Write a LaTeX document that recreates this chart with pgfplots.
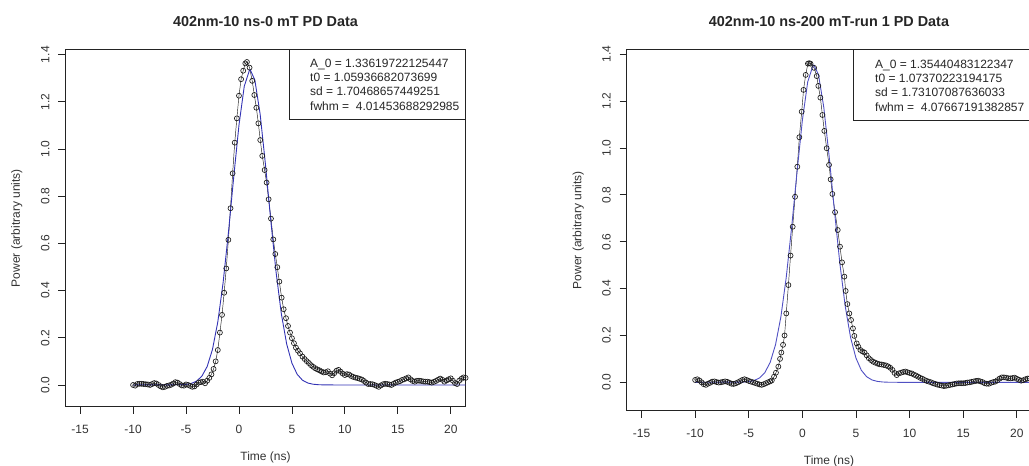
\documentclass[border=0pt]{standalone}
\usepackage{fontspec}
\setmainfont{Liberation Sans}
\usepackage{pgfplots}
\pgfplotsset{compat=1.18}
\definecolor{fitblueL}{RGB}{50,50,180}
\definecolor{fitblueR}{RGB}{80,80,195}
\definecolor{frm}{RGB}{35,35,35}

\pgfplotstableread{
t v
-10.0 0.000
-9.8 -0.003
-9.6 0.004
-9.4 0.005
-9.2 0.005
-9.0 0.004
-8.8 0.003
-8.6 0.002
-8.4 0.000
-8.2 0.004
-8.0 0.008
-7.8 0.006
-7.6 0.000
-7.4 -0.006
-7.2 -0.010
-7.0 -0.008
-6.8 -0.004
-6.6 -0.002
-6.4 0.001
-6.2 0.006
-6.0 0.012
-5.8 0.010
-5.6 0.004
-5.4 -0.002
-5.2 -0.003
-5.0 0.002
-4.8 0.000
-4.6 -0.004
-4.4 -0.008
-4.2 -0.006
-4.0 0.002
-3.8 0.010
-3.6 0.012
-3.4 0.014
-3.2 0.007
-3.0 0.018
-2.8 0.030
-2.6 0.045
-2.4 0.068
-2.2 0.100
-2.0 0.148
-1.8 0.222
-1.6 0.297
-1.4 0.391
-1.2 0.494
-1.0 0.615
-0.8 0.749
-0.6 0.897
-0.4 1.027
-0.2 1.130
0.0 1.226
0.2 1.296
0.4 1.332
0.6 1.363
0.75 1.369
1.0 1.345
1.25 1.289
1.45 1.229
1.64 1.175
1.83 1.109
2.01 1.038
2.20 0.971
2.42 0.911
2.61 0.858
2.80 0.787
3.02 0.705
3.24 0.617
3.43 0.555
3.62 0.499
3.81 0.438
4.03 0.370
4.22 0.321
4.44 0.283
4.63 0.250
4.82 0.222
5.00 0.198
5.19 0.177
5.38 0.158
5.57 0.145
5.76 0.134
6.0 0.120
6.2 0.110
6.4 0.101
6.6 0.093
6.8 0.084
7.0 0.077
7.2 0.071
7.4 0.066
7.6 0.062
7.8 0.057
8.0 0.053
8.2 0.054
8.4 0.058
8.6 0.048
8.8 0.041
9.0 0.050
9.2 0.060
9.4 0.064
9.6 0.056
9.8 0.048
10.0 0.042
10.2 0.046
10.4 0.044
10.6 0.038
10.8 0.034
11.0 0.031
11.2 0.029
11.4 0.026
11.6 0.023
11.8 0.017
12.0 0.010
12.2 0.004
12.4 0.004
12.6 0.003
12.8 0.000
13.0 -0.004
13.2 -0.008
13.4 -0.002
13.6 0.003
13.8 0.005
14.0 0.004
14.2 0.002
14.4 0.000
14.6 0.005
14.8 0.010
15.0 0.013
15.2 0.016
15.4 0.021
15.6 0.024
15.8 0.028
16.0 0.032
16.2 0.024
16.4 0.017
16.6 0.014
16.8 0.018
17.0 0.018
17.2 0.017
17.4 0.015
17.6 0.014
17.8 0.014
18.0 0.012
18.2 0.010
18.4 0.013
18.6 0.017
18.8 0.022
19.0 0.027
19.2 0.022
19.4 0.014
19.6 0.019
19.8 0.024
20.0 0.028
20.2 0.018
20.4 0.008
20.6 0.004
20.8 0.018
21.0 0.026
21.2 0.032
21.4 0.030
}\dataL

\pgfplotstableread{
t v
-10.0 0.000
-5.5 0.0008
-5.0 0.0024
-4.5 0.0065
-4.0 0.0163
-3.5 0.0374
-3.0 0.0785
-2.5 0.1511
-2.0 0.2670
-1.5 0.4329
-1.0 0.6442
-0.5 0.8794
0.0 1.1016
0.5 1.2662
1.0 1.3354
1.06 1.3362
1.5 1.2923
2.0 1.1475
2.5 0.9349
3.0 0.6990
3.5 0.4795
4.0 0.3018
4.5 0.1744
5.0 0.0924
5.5 0.0449
6.0 0.0200
6.5 0.0082
7.0 0.0031
7.5 0.0011
8.0 0.0003
9.0 0.0000
21.4 0.0000
}\fitL

\pgfplotstableread{
t v
-10.0 0.010
-9.8 0.013
-9.6 0.008
-9.4 0.000
-9.2 -0.008
-9.0 -0.011
-8.8 -0.006
-8.6 -0.002
-8.4 0.003
-8.2 0.004
-8.0 0.001
-7.8 -0.001
-7.6 0.000
-7.4 0.002
-7.2 0.004
-7.0 0.002
-6.8 -0.002
-6.6 -0.006
-6.4 -0.007
-6.2 -0.004
-6.0 0.000
-5.8 0.005
-5.6 0.010
-5.4 0.013
-5.2 0.010
-5.0 0.006
-4.8 0.003
-4.6 0.000
-4.4 -0.003
-4.2 -0.006
-4.0 -0.009
-3.8 -0.011
-3.6 -0.008
-3.4 -0.004
-3.2 0.000
-3.0 0.004
-2.85 0.008
-2.64 0.024
-2.46 0.041
-2.24 0.067
-2.08 0.100
-1.96 0.127
-1.80 0.160
-1.66 0.200
-1.50 0.294
-1.30 0.415
-1.10 0.541
-0.90 0.664
-0.68 0.792
-0.47 0.920
-0.28 1.046
-0.06 1.155
0.11 1.248
0.31 1.312
0.52 1.360
0.64 1.362
0.76 1.360
1.10 1.342
1.34 1.307
1.49 1.265
1.68 1.215
1.87 1.141
2.05 1.073
2.27 0.999
2.49 0.928
2.64 0.866
2.80 0.804
3.05 0.726
3.30 0.650
3.51 0.579
3.70 0.512
3.92 0.451
4.04 0.390
4.20 0.334
4.38 0.294
4.54 0.266
4.72 0.230
4.85 0.198
5.07 0.166
5.22 0.152
5.41 0.138
5.6 0.132
5.8 0.127
6.0 0.115
6.2 0.103
6.4 0.095
6.6 0.088
6.8 0.084
7.0 0.080
7.2 0.077
7.4 0.076
7.6 0.074
7.8 0.072
8.0 0.068
8.2 0.062
8.4 0.053
8.6 0.040
8.8 0.031
9.0 0.038
9.2 0.041
9.4 0.044
9.6 0.046
9.8 0.043
10.0 0.040
10.2 0.038
10.4 0.033
10.6 0.029
10.8 0.024
11.0 0.019
11.2 0.015
11.4 0.010
11.6 0.006
11.8 0.003
12.0 0.000
12.2 -0.004
12.4 -0.007
12.6 -0.010
12.8 -0.012
13.0 -0.014
13.2 -0.016
13.4 -0.015
13.6 -0.013
13.8 -0.011
14.0 -0.009
14.2 -0.007
14.4 -0.005
14.6 -0.004
14.8 -0.004
15.0 -0.004
15.2 -0.003
15.4 -0.001
15.6 0.000
15.8 0.002
16.0 0.004
16.2 0.006
16.4 0.007
16.6 0.004
16.8 0.001
17.0 -0.004
17.2 -0.006
17.4 -0.006
17.6 -0.002
17.8 0.001
18.0 0.003
18.2 0.009
18.4 0.016
18.6 0.021
18.8 0.021
19.0 0.020
19.2 0.017
19.4 0.017
19.6 0.018
19.8 0.020
20.0 0.015
20.2 0.011
20.4 0.007
20.6 0.009
20.8 0.013
21.0 0.016
21.2 0.017
21.4 0.015
}\dataR

\pgfplotstableread{
t v
-10.0 0.000
-5.5 0.0010
-5.0 0.0029
-4.5 0.0076
-4.0 0.0185
-3.5 0.0413
-3.0 0.0850
-2.5 0.1608
-2.0 0.2800
-1.5 0.4486
-1.0 0.6609
-0.5 0.8960
0.0 1.1174
0.5 1.2821
1.0 1.3532
1.07 1.3544
1.5 1.3139
2.0 1.1737
2.5 0.9646
3.0 0.7292
3.5 0.5071
4.0 0.3245
4.5 0.1910
5.0 0.1035
5.5 0.0515
6.0 0.0236
6.5 0.0100
7.0 0.0039
7.5 0.0014
8.0 0.0004
9.0 0.0000
21.4 0.0000
}\fitR

\pgfplotsset{
  rplot/.style={
    anchor=south west, scale only axis,
    xmin=-16.4, xmax=21.4,
    xtick={-15,-10,-5,0,5,10,15,20},
    xticklabels={-15,-10,-5,0,5,10,15,20},
    ytick={0,0.2,0.4,0.6,0.8,1.0,1.2,1.4},
    yticklabels={0.0,0.2,0.4,0.6,0.8,1.0,1.2,1.4},
    tick align=outside, major tick length=7pt,
    tick pos=left,
    axis line style={frm, line width=0.9pt},
    every tick/.style={frm, line width=0.8pt},
    xticklabel style={font=\fontsize{12}{14}\selectfont, anchor=north, inner sep=0pt, text=black!80},
    yticklabel style={font=\fontsize{12}{14}\selectfont, rotate=90, anchor=base, inner sep=0pt, text=black!80},
    xticklabel shift=11pt,
    yticklabel shift=9pt,
  },
  dat/.style={black!90, line width=0.45pt, mark=o, mark size=2.5pt, mark options={line width=0.65pt, solid}},
}

\begin{document}
\begin{tikzpicture}[x=1pt,y=1pt]
\useasboundingbox (0,0) rectangle (1029,466);
\clip (0,0) rectangle (1029,466);

% ---------- left panel ----------
\begin{axis}[rplot, at={(65.3pt,59.1pt)}, width=400.3pt, height=357.9pt,
  ymin=-0.093, ymax=1.424]
  \addplot[dat] table[x=t,y=v] {\dataL};
  \addplot[fitblueL, line width=0.9pt] table[x=t,y=v] {\fitL};
\end{axis}
\draw[frm, line width=0.9pt] (289.3,347) rectangle (465.6,417);
\begin{scope}[every node/.style={anchor=base west, inner sep=0pt, font=\fontsize{12}{14}\selectfont, text=black!85}]
\node at (310,398.4) {A\_0 = 1.33619722125447};
\node at (310,384.2) {t0 = 1.05936682073699};
\node at (310,370.0) {sd = 1.70468657449251};
\node at (310,355.8) {fwhm = \ 4.01453688292985};
\end{scope}
\node[font=\fontsize{14.4}{16}\selectfont\bfseries, text=black!85] at (265.5,444.7) {402nm-10 ns-0 mT PD Data};
\node[font=\fontsize{12}{14}\selectfont, text=black!80] at (265.5,9) {Time (ns)};
\node[font=\fontsize{12}{14}\selectfont, text=black!80, rotate=90] at (16.7,238) {Power (arbitrary units)};

% ---------- right panel ----------
\begin{axis}[rplot, at={(626.5pt,55.1pt)}, width=405.3pt, height=361.3pt,
  ymin=-0.122, ymax=1.42]
  \addplot[dat] table[x=t,y=v] {\dataR};
  \addplot[fitblueR, line width=0.9pt] table[x=t,y=v] {\fitR};
\end{axis}
\draw[frm, line width=0.9pt] (853.7,345.7) rectangle (1035,416.4);
\begin{scope}[every node/.style={anchor=base west, inner sep=0pt, font=\fontsize{12}{14}\selectfont, text=black!85}]
\node at (875,397.5) {A\_0 = 1.35440483122347};
\node at (875,383.3) {t0 = 1.07370223194175};
\node at (875,369.1) {sd = 1.73107087636033};
\node at (875,354.9) {fwhm = \ 4.07667191382857};
\end{scope}
\node[font=\fontsize{14.4}{16}\selectfont\bfseries, text=black!85] at (829,444) {402nm-10 ns-200 mT-run 1 PD Data};
\node[font=\fontsize{12}{14}\selectfont, text=black!80] at (829,4.3) {Time (ns)};
\node[font=\fontsize{12}{14}\selectfont, text=black!80, rotate=90] at (578.3,235.7) {Power (arbitrary units)};
\end{tikzpicture}
\end{document}
